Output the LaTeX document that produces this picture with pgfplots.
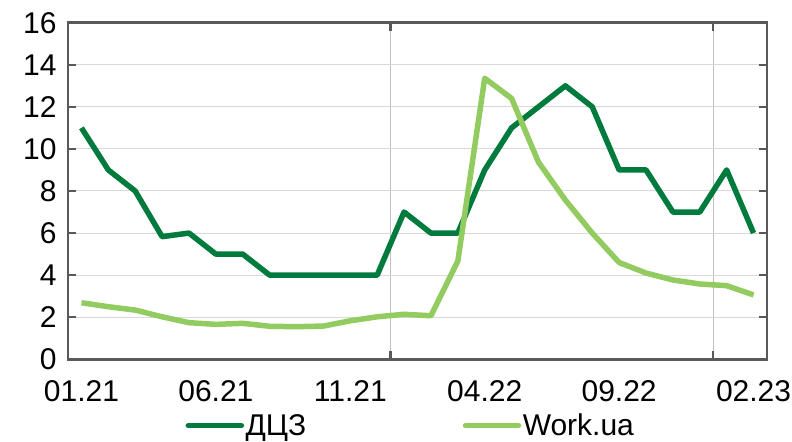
\documentclass[border=0pt]{standalone}
\usepackage{fontspec}
\setmainfont{Liberation Sans}
\usepackage{pgfplots}
\pgfplotsset{compat=1.18}
\definecolor{dgreen}{RGB}{0,122,61}
\definecolor{lgreen}{RGB}{146,204,96}
\definecolor{frame}{RGB}{89,89,89}
\definecolor{hgrid}{RGB}{217,217,217}
\definecolor{vgrid}{RGB}{190,194,198}
\begin{document}
\begin{tikzpicture}
\path[use as bounding box] (0,0) rectangle (792bp,442bp);
\begin{axis}[
  at={(68bp,82.7bp)}, anchor=south west,
  width=699bp, height=336.6bp, scale only axis,
  xmin=-0.5, xmax=25.5, ymin=0, ymax=16,
  axis line style={frame, line width=2.5bp},
  ytick={0,2,...,16},
  ymajorgrids, major grid style={hgrid, line width=1bp},
  xtick={11.5,23.5}, xticklabels={},
  xmajorgrids,
  x grid style={vgrid, line width=1.2bp},
  tick align=inside, major tick length=8bp,
  tick style={frame, line width=2.5bp},
  extra x ticks={0,5,10,15,20,25},
  extra x tick labels={01.21,06.21,11.21,04.22,09.22,02.23},
  extra x tick style={major tick length=0pt, grid=none},
  /pgf/number format/assume math mode=true,
  tick label style={font=\fontsize{30bp}{34bp}\selectfont, black},
  xticklabel style={yshift=-18bp},
  yticklabel style={xshift=-8bp},
  legend columns=2,
  legend style={draw=none, fill=none, at={(0.49,-0.197)}, anchor=center,
    font=\fontsize{30bp}{34bp}\selectfont, nodes={inner xsep=1.5bp, inner ysep=0bp},
    /tikz/every even column/.append style={column sep=155bp}},
  legend image code/.code={\draw[#1, line cap=round] (0bp,0bp) -- (53bp,0bp);},
  clip=false,
]
\addplot[dgreen, line width=5.5bp, line join=round] coordinates {
(0,11) (1,9) (2,8) (3,5.83) (4,6) (5,5) (6,5) (7,4) (8,4) (9,4) (10,4) (11,4)
(12,7) (13,6) (14,6) (15,9) (16,11) (17,12) (18,13) (19,12) (20,9) (21,9)
(22,7) (23,7) (24,9) (25,6)};
\addlegendentry{ДЦЗ}
\addplot[lgreen, line width=5.5bp, line join=round] coordinates {
(0,2.69) (1,2.5) (2,2.34) (3,2.02) (4,1.74) (5,1.66) (6,1.71) (7,1.57) (8,1.55)
(9,1.58) (10,1.83) (11,2.02) (12,2.14) (13,2.07) (14,4.67) (15,13.36) (16,12.4)
(17,9.37) (18,7.57) (19,6.0) (20,4.6) (21,4.1) (22,3.77) (23,3.58) (24,3.5) (25,3.06)};
\addlegendentry{Work.ua}
\end{axis}
\end{tikzpicture}
\end{document}
